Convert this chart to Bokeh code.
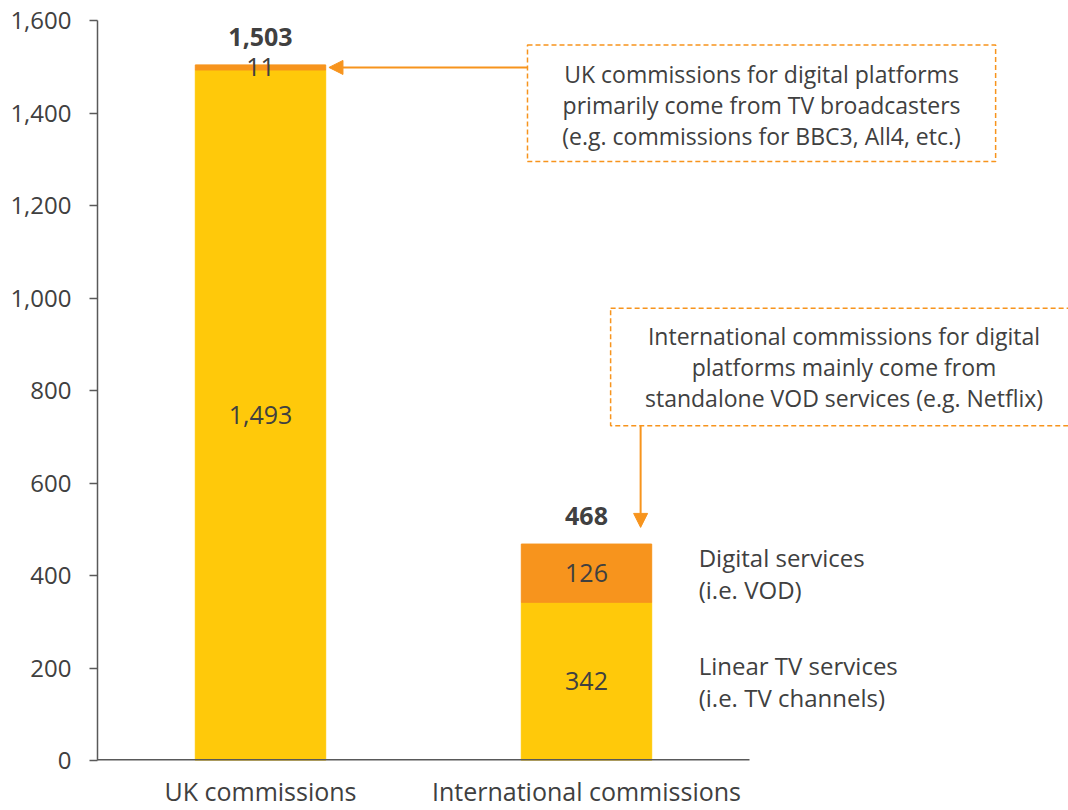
from bokeh.plotting import figure
from bokeh.models import Range1d, FixedTicker, NumeralTickFormatter, Arrow, NormalHead
from bokeh.core.properties import value
from bokeh.embed import file_html
from bokeh.resources import INLINE

categories = ["UK commissions", "International commissions"]
linear = [1493, 342]
digital = [11, 126]
totals = [1503, 468]
y_ticks = [0, 200, 400, 600, 800, 1000, 1200, 1400, 1600]
series_labels = ["Linear TV services\n(i.e. TV channels)", "Digital services\n(i.e. VOD)"]
note_uk = "UK commissions for digital platforms\nprimarily come from TV broadcasters\n(e.g. commissions for BBC3, All4, etc.)"
note_int = "International commissions for digital\nplatforms mainly come from\nstandalone VOD services (e.g. Netflix)"

YELLOW = "#FFC90A"
ORANGE = "#F7941D"
TEXT = "#404040"
AXIS = "#595959"
FONT = "Open Sans"

xs = [i + 0.5 for i in range(len(categories))]
tops = [l + d for l, d in zip(linear, digital)]

p = figure(width=1068, height=810, output_backend="svg", toolbar_location=None,
           x_range=Range1d(0, 971 / 326), y_range=Range1d(0, 1600),
           min_border_left=97, min_border_right=0, min_border_top=20, min_border_bottom=48)
p.outline_line_color = None
p.grid.visible = False
p.background_fill_color = "white"

p.vbar(x=xs, width=0.4, bottom=0, top=linear, color=YELLOW)
p.vbar(x=xs, width=0.4, bottom=linear, top=tops, color=ORANGE)

# segment labels
p.text(x=xs, y=[l / 2 for l in linear], text=[f"{v:,}" for v in linear],
       text_align="center", text_baseline="middle", text_font=value(FONT),
       text_font_size="25px", text_color=TEXT)
p.text(x=xs, y=[l + d / 2 for l, d in zip(linear, digital)], text=[f"{v:,}" for v in digital],
       text_align="center", text_baseline="middle", text_font=value(FONT),
       text_font_size="25px", text_color=TEXT)
p.text(x=xs, y=totals, text=[f"{v:,}" for v in totals], y_offset=-28,
       text_align="center", text_baseline="middle", text_font=value(FONT),
       text_font_size="25px", text_font_style="bold", text_color=TEXT)

# series labels to the right of the international bar
p.text(x=[xs[1] + 0.2] * 2, y=[linear[1] / 2, linear[1] + digital[1] / 2], text=series_labels,
       x_offset=47, text_align="left", text_baseline="middle", text_font=value(FONT),
       text_font_size="24px", text_color=TEXT, text_line_height=0.98)

# baseline
p.segment(x0=[0], y0=[0], x1=[2.0], y1=[0], line_color=AXIS, line_width=3)

# notes
p.quad(left=[1.319], right=[2.755], bottom=[1295], top=[1547], fill_color=None,
       line_color=ORANGE, line_width=1.5, line_dash="5 3")
p.quad(left=[1.574], right=[3.2], bottom=[724], top=[978], fill_color=None,
       line_color=ORANGE, line_width=1.5, line_dash="5 3")
p.text(x=[2.037, 2.29], y=[1418, 851], text=[note_uk, note_int],
       text_align="center", text_baseline="middle", text_font=value(FONT),
       text_font_size="23px", text_color=TEXT, text_line_height=0.97)

p.add_layout(Arrow(end=NormalHead(size=14, fill_color=ORANGE, line_color=ORANGE),
                   x_start=1.319, y_start=linear[0] + digital[0] / 2,
                   x_end=xs[0] + 0.21, y_end=linear[0] + digital[0] / 2,
                   line_color=ORANGE, line_width=2))
p.add_layout(Arrow(end=NormalHead(size=14, fill_color=ORANGE, line_color=ORANGE),
                   x_start=1.666, y_start=724, x_end=1.666, y_end=504,
                   line_color=ORANGE, line_width=2))

# x axis (category labels only)
p.xaxis.ticker = FixedTicker(ticks=xs)
p.xaxis.major_label_overrides = {x: c for x, c in zip(xs, categories)}
p.xaxis.axis_line_color = None
p.xaxis.major_tick_line_color = None
p.xaxis.minor_tick_line_color = None
p.xaxis.major_tick_out = 0
p.xaxis.major_tick_in = 0
p.xaxis.major_label_standoff = 13
p.xaxis.major_label_text_font = FONT
p.xaxis.major_label_text_font_size = "25px"
p.xaxis.major_label_text_color = TEXT

p.yaxis.ticker = FixedTicker(ticks=y_ticks)
p.yaxis.formatter = NumeralTickFormatter(format="0,0")
p.yaxis.axis_line_color = AXIS
p.yaxis.axis_line_width = 1.5
p.yaxis.major_tick_line_color = AXIS
p.yaxis.major_tick_line_width = 1.5
p.yaxis.major_tick_out = 8
p.yaxis.major_tick_in = 0
p.yaxis.minor_tick_line_color = None
p.yaxis.major_label_standoff = 18
p.yaxis.major_label_text_font = FONT
p.yaxis.major_label_text_font_size = "24px"
p.yaxis.major_label_text_color = TEXT

open("out.html", "w").write(file_html(p, INLINE))
